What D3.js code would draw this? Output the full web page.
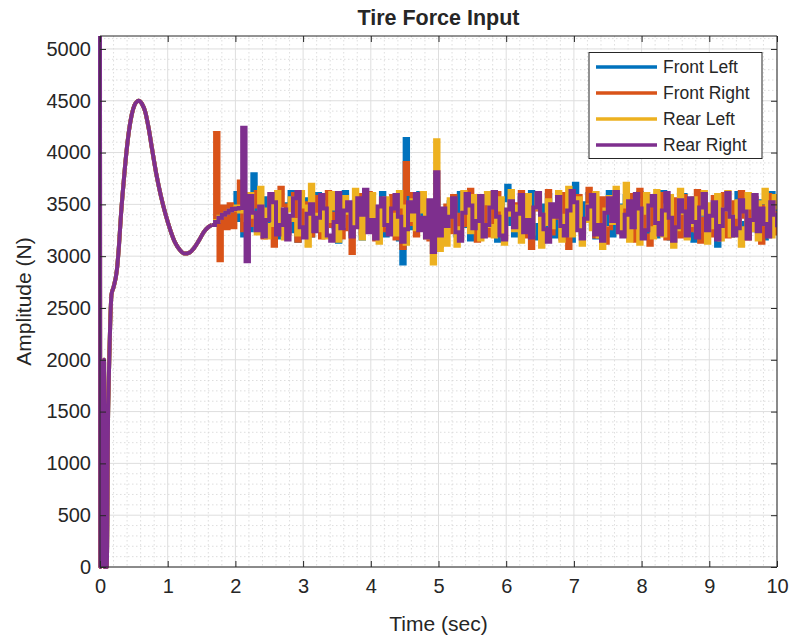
<!DOCTYPE html>
<html><head><meta charset="utf-8">
<script src="https://cdn.jsdelivr.net/npm/d3@7"></script>
<style>
body{margin:0;background:#fff}
text{font-family:"Liberation Sans",Arial,Helvetica,sans-serif;fill:#262626}
</style>
</head><body>
<svg id="chart" width="793" height="637"></svg>
<script>
const title = "Tire Force Input";
const xLabel = "Time (sec)";
const yLabel = "Amplitude (N)";
const seriesNames = ["Front Left", "Front Right", "Rear Left", "Rear Right"];
const seriesColors = ["#0072BD", "#D95319", "#EDB120", "#7E2F8E"];
const xTicks = [0,1,2,3,4,5,6,7,8,9,10];
const yTicks = [0,500,1000,1500,2000,2500,3000,3500,4000,4500,5000];
const xDomain = [0, 10];
const yDomain = [0, 5125];

// shared transient response (all four wheels coincide), t in seconds
const transientT = [0,0.004,0.012,0.02,0.028,0.036,0.044,0.052,0.06,0.068,0.076,0.084,0.092,0.1,0.11,0.118,0.128,0.137,0.15,0.17,0.2,0.25,0.28,0.31,0.35,0.39,0.43,0.47,0.51,0.55,0.57,0.62,0.67,0.72,0.77,0.83,0.9,0.97,1.04,1.11,1.18,1.25,1.32,1.39,1.46,1.53,1.6,1.65];
const transientV = [5125,0,1900,60,1700,20,1500,40,2000,0,1300,30,900,0,600,1390,1750,2010,2330,2630,2700,2870,3100,3400,3720,4000,4220,4370,4460,4495,4500,4470,4390,4230,4030,3800,3580,3400,3250,3130,3060,3025,3035,3080,3150,3230,3280,3300];

// sampled (zero-order hold) values from t = 1.65 s, every 0.05 s
const noiseStart = 1.65, noiseStep = 0.05;
const frontLeft = [3300,3330,3370,3420,3380,3460,3420,3610,3350,3200,3480,
3250,3790,3420,3300,3560,3210,3380,3600,3450,3180,
3330,3500,3620,3240,3150,3410,3550,3290,3200,3480,
3600,3350,3190,3470,3560,3280,3140,3390,3620,3300,
3220,3530,3410,3170,3290,3580,3460,3240,3350,3610,
3200,3380,3550,3300,3160,2930,4130,3420,3270,3500,
3610,3330,3190,3460,3280,3560,3400,3150,3250,3520,
3380,3200,3610,3470,3290,3160,3430,3580,3340,3220,
3490,3600,3270,3150,3400,3540,3680,3310,3200,3450,
3560,3230,3380,3620,3170,3300,3490,3260,3590,3410,
3190,3340,3550,3280,3460,3150,3700,3390,3230,3510,
3600,3270,3180,3440,3530,3310,3620,3200,3380,3490,
3250,3580,3420,3160,3300,3610,3470,3230,3340,3550,
3190,3400,3620,3290,3170,3500,3360,3230,3590,3440,
3280,3150,3530,3400,3600,3220,3350,3480,3100,3270,
3560,3390,3200,3470,3610,3320,3180,3450,3580,3250,
3400,3530,3170,3300,3610,3460,3220];
const frontRight = [3300,4190,2960,3480,3270,3500,3280,3460,3720,3250,3560,
3300,3480,3620,3250,3180,3420,3560,3100,3330,3660,
3490,3220,3380,3600,3150,3270,3510,3430,3200,3570,
3340,3180,3460,3620,3290,3410,3550,3180,3260,3500,
3030,3380,3590,3220,3470,3610,3300,3160,3440,3530,
3250,3390,3580,3170,3460,3080,3900,3600,3310,3200,
3450,3570,3280,3160,3390,3620,3100,3340,3490,3230,
3580,3400,3170,3300,3520,3640,3250,3150,3430,3560,
3290,3200,3480,3610,3350,3180,3420,3570,3260,3500,
3620,3330,3190,3080,3450,3560,3280,3400,3630,3220,
3370,3510,3170,3600,3080,3290,3460,3580,3210,3350,
3650,3420,3190,3300,3560,3130,3270,3490,3610,3340,
3220,3460,3590,3300,3150,3640,3410,3200,3110,3520,
3380,3600,3260,3170,3470,3550,3310,3190,3580,3430,
3250,3500,3630,3140,3360,3470,3200,3570,3410,3280,
3600,3190,3340,3520,3240,3620,3380,3170,3450,3560,
3300,3130,3480,3590,3260,3420,3200];
const rearLeft = [3300,3340,3380,3400,3420,3440,3450,3480,3430,3470,3350,
3600,3380,3220,3660,3450,3180,3300,3530,3620,3290,
3170,3440,3560,3350,3210,3620,3480,3100,3690,3400,
3250,3520,3180,3340,3610,3460,3150,3290,3570,3420,
3200,3640,3380,3170,3500,3330,3600,3240,3130,3470,
3560,3290,3400,3210,3620,3480,3120,3350,3540,3260,
3430,3610,3180,3380,2930,4120,3060,3300,3110,3550,
3400,3100,3270,3620,3480,3230,3580,3360,3160,3510,
3610,3290,3190,3450,3560,3120,3400,3630,3250,3480,
3140,3370,3590,3220,3460,3600,3090,3310,3540,3280,
3450,3620,3150,3390,3660,3200,3500,3560,3110,3340,
3490,3260,3610,3190,3080,3450,3570,3320,3660,3230,
3480,3700,3150,3300,3540,3120,3420,3600,3270,3180,
3630,3350,3200,3490,3580,3090,3260,3640,3420,3170,
3300,3560,3240,3410,3620,3130,3500,3280,3590,3160,
3450,3620,3200,3380,3530,3100,3270,3600,3470,3250,
3160,3520,3640,3300,3190,3580,3450];
const rearRight = [3300,3330,3370,3400,3420,3440,3455,3460,3465,4240,2950,
3580,3420,3250,3480,3190,3350,3600,3520,3210,3300,
3450,3160,3390,3560,3620,3280,3180,3410,3500,3240,
3370,3590,3460,3200,3150,3330,3610,3270,3440,3520,
3190,3280,3560,3400,3640,3230,3350,3170,3480,3560,
3300,3210,3460,3590,3380,3140,3260,3520,3430,3600,
3250,3370,3180,3540,3040,3810,3200,3460,3290,3380,
3560,3230,3150,3420,3600,3490,3270,3340,3580,3190,
3300,3470,3620,3380,3200,3160,3450,3530,3280,3410,
3590,3230,3350,3180,3470,3610,3400,3260,3140,3500,
3380,3570,3290,3200,3440,3630,3520,3250,3170,3360,
3480,3590,3210,3300,3150,3420,3560,3340,3620,3230,
3190,3400,3530,3280,3600,3460,3170,3250,3490,3580,
3320,3210,3440,3610,3370,3150,3280,3540,3430,3200,
3560,3330,3180,3470,3600,3250,3390,3520,3160,3290,
3450,3610,3380,3200,3270,3540,3430,3170,3350,3590,
3240,3460,3310,3190,3520,3400,3280];
const seriesValues = [frontLeft, frontRight, rearLeft, rearRight];

const svg = d3.select("#chart");
const W = 793, H = 637;
const m = {left:100, right:16, top:36, bottom:70};
const pw = W - m.left - m.right, ph = H - m.top - m.bottom;
const x = d3.scaleLinear().domain(xDomain).range([m.left, m.left + pw]);
const y = d3.scaleLinear().domain(yDomain).range([m.top + ph, m.top]);

svg.append("rect").attr("width", W).attr("height", H).attr("fill", "#fff");

// minor grid
const gMinor = svg.append("g");
const xMinor = d3.range(0, 10.0001, 0.2).filter(v => Math.abs(v - Math.round(v)) > 1e-6);
const yMinor = d3.range(0, 5125, 100).filter(v => v % 500 !== 0);
gMinor.selectAll("line.xm").data(xMinor).join("line")
  .attr("x1", d => x(d)).attr("x2", d => x(d)).attr("y1", m.top).attr("y2", m.top + ph)
  .attr("stroke", "#d6d6d6").attr("stroke-width", 0.8).attr("stroke-dasharray", "1.5,2.5");
gMinor.selectAll("line.ym").data(yMinor).join("line")
  .attr("y1", d => y(d)).attr("y2", d => y(d)).attr("x1", m.left).attr("x2", m.left + pw)
  .attr("stroke", "#d6d6d6").attr("stroke-width", 0.8).attr("stroke-dasharray", "1.5,2.5");

// major grid
const gMajor = svg.append("g");
gMajor.selectAll("line.xg").data(xTicks).join("line")
  .attr("x1", d => x(d)).attr("x2", d => x(d)).attr("y1", m.top).attr("y2", m.top + ph)
  .attr("stroke", "#dedede").attr("stroke-width", 1);
gMajor.selectAll("line.yg").data(yTicks).join("line")
  .attr("y1", d => y(d)).attr("y2", d => y(d)).attr("x1", m.left).attr("x2", m.left + pw)
  .attr("stroke", "#dedede").attr("stroke-width", 1);

// data
svg.append("clipPath").attr("id", "clip").append("rect")
  .attr("x", m.left - 3).attr("y", m.top).attr("width", pw + 3).attr("height", ph + 2);
const gData = svg.append("g").attr("clip-path", "url(#clip)");
const transientPts = transientT.map((t, i) => [t, transientV[i]]);
const smooth = d3.line().x(d => x(d[0])).y(d => y(d[1])).curve(d3.curveMonotoneX);
const step = d3.line().x(d => x(d[0])).y(d => y(d[1])).curve(d3.curveStepAfter);
const lw = 4;
seriesValues.forEach((vals, k) => {
  const pts = vals.map((v, i) => [noiseStart + i * noiseStep, v]);
  gData.append("path").attr("d", smooth(transientPts)).attr("fill", "none")
    .attr("stroke", seriesColors[k]).attr("stroke-width", lw).attr("stroke-linejoin", "round");
  gData.append("path").attr("d", step(pts)).attr("fill", "none")
    .attr("stroke", seriesColors[k]).attr("stroke-width", lw).attr("stroke-linejoin", "miter");
});

// axes (MATLAB style: ticks inside, box)
const tickLen = 6;
const axBottom = svg.append("g").attr("transform", `translate(0,${m.top + ph})`)
  .call(d3.axisBottom(x).tickValues(xTicks).tickSize(-tickLen).tickPadding(12).tickFormat(d3.format("d")));
const axTop = svg.append("g").attr("transform", `translate(0,${m.top})`)
  .call(d3.axisTop(x).tickValues(xTicks).tickSize(-tickLen).tickFormat(""));
const axLeft = svg.append("g").attr("transform", `translate(${m.left},0)`)
  .call(d3.axisLeft(y).tickValues(yTicks).tickSize(-tickLen).tickPadding(9).tickFormat(d3.format("d")));
const axRight = svg.append("g").attr("transform", `translate(${m.left + pw},0)`)
  .call(d3.axisRight(y).tickValues(yTicks).tickSize(-tickLen).tickFormat(""));
[axBottom, axTop, axLeft, axRight].forEach(a => {
  a.select(".domain").attr("stroke", "#262626").attr("stroke-width", 1);
  a.selectAll(".tick line").attr("stroke", "#262626").attr("stroke-width", 1);
  a.selectAll(".tick text").attr("font-size", 20).attr("fill", "#262626")
    .attr("font-family", '"Liberation Sans",Arial,sans-serif');
});
axBottom.select(".domain").attr("d", `M${m.left},0H${m.left + pw}`);
axTop.select(".domain").attr("d", `M${m.left},0H${m.left + pw}`);
axLeft.select(".domain").attr("d", `M0,${m.top}V${m.top + ph}`);
axRight.select(".domain").attr("d", `M0,${m.top}V${m.top + ph}`);

// titles
svg.append("text").attr("x", m.left + pw / 2).attr("y", 25).attr("text-anchor", "middle")
  .attr("font-size", 21.5).attr("font-weight", "bold").attr("fill", "#000").text(title);
svg.append("text").attr("x", m.left + pw / 2).attr("y", 631).attr("text-anchor", "middle")
  .attr("font-size", 21).text(xLabel);
svg.append("text").attr("transform", `translate(31,${m.top + ph / 2}) rotate(-90)`)
  .attr("text-anchor", "middle").attr("font-size", 21).text(yLabel);

// legend
const lg = svg.append("g");
lg.append("rect").attr("x", 589).attr("y", 52.5).attr("width", 173).attr("height", 106)
  .attr("fill", "#fff").attr("stroke", "#262626").attr("stroke-width", 1);
seriesNames.forEach((name, k) => {
  const cy = 67 + k * 26;
  lg.append("line").attr("x1", 596).attr("x2", 657).attr("y1", cy).attr("y2", cy)
    .attr("stroke", seriesColors[k]).attr("stroke-width", 3.5);
  lg.append("text").attr("x", 663).attr("y", cy).attr("dy", "0.35em")
    .attr("font-size", 17.5).attr("fill", "#000").text(name);
});
</script>
</body></html>
